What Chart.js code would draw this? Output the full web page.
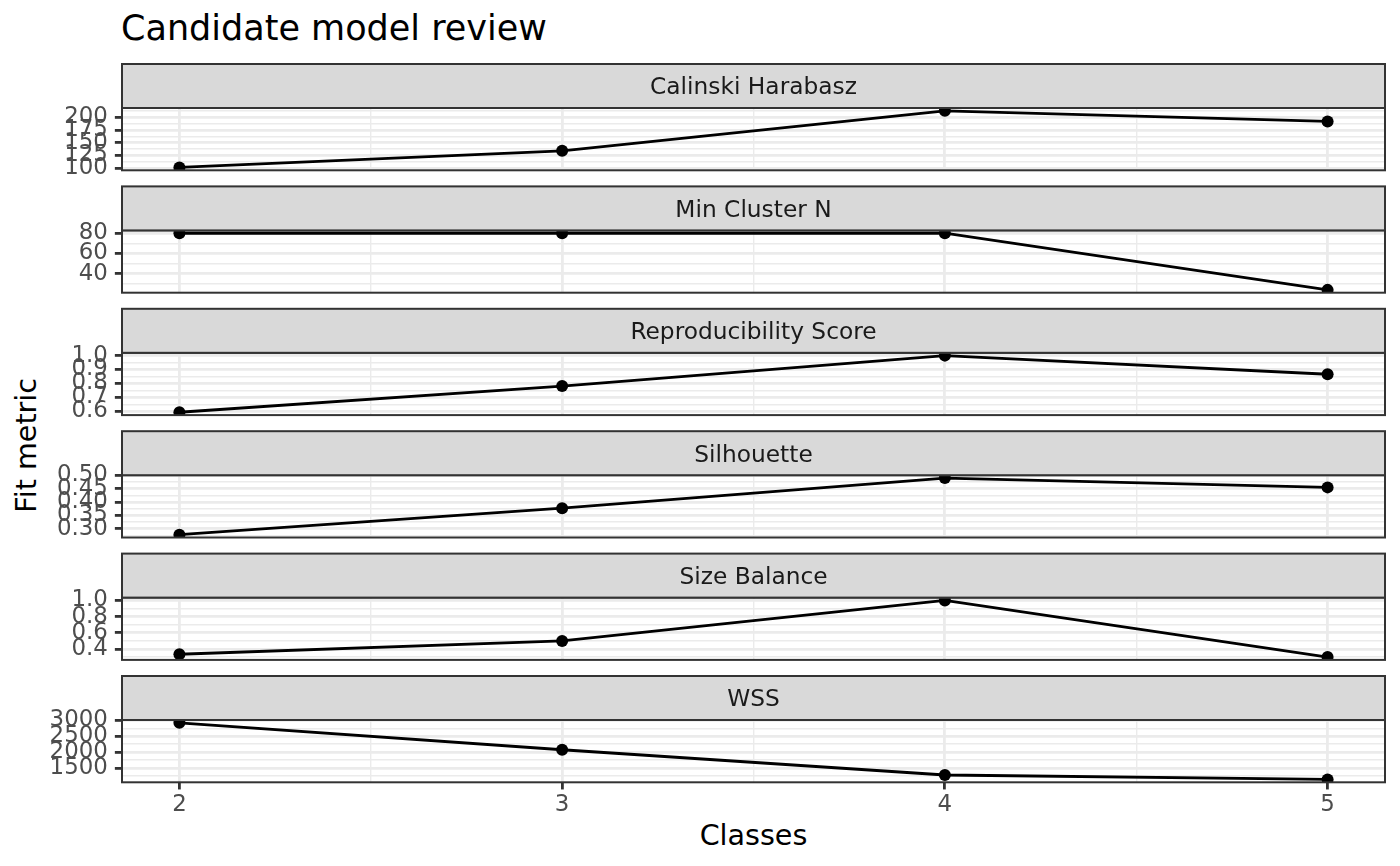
<!DOCTYPE html>
<html>
<head>
<meta charset="utf-8">
<script src="https://cdn.jsdelivr.net/npm/chart.js@4/dist/chart.umd.min.js"></script>
<style>
html, body { margin: 0; padding: 0; background: #ffffff; }
#wrap { position: relative; width: 1400px; height: 866px; overflow: hidden; background: #ffffff; font-family: "DejaVu Sans", sans-serif; }
#wrap canvas { position: absolute; left: 0; top: 0; }
.t { position: absolute; white-space: nowrap; line-height: 1; color: #000000; font-family: "DejaVu Sans", sans-serif; }
</style>
</head>
<body>
<div id="wrap">
  <div class="t" id="plotTitle" style="left:121px; top:11.4px; font-size:35px;">Candidate model review</div>
  <div class="t" id="xTitle" style="left:653.5px; width:200px; text-align:center; top:821.3px; font-size:28.6px;">Classes</div>
  <div class="t" id="yTitle" style="left:-73.9px; width:200px; height:28.6px; text-align:center; top:430.7px; font-size:28.6px; transform:rotate(-90deg);">Fit metric</div>
</div>
<script>
// ---------------- data ----------------
const classes = [2, 3, 4, 5];
const xTickLabels = ['2', '3', '4', '5'];

const panelNames = ['Calinski Harabasz', 'Min Cluster N', 'Reproducibility Score', 'Silhouette', 'Size Balance', 'WSS'];

const calinskiHarabasz = [101, 134, 213, 192];
const minClusterN = [80, 80, 80, 24];
const reproducibilityScore = [0.592, 0.781, 1.0, 0.866];
const silhouette = [0.278, 0.377, 0.49, 0.455];
const sizeBalance = [0.335, 0.5, 1.0, 0.3];
const wss = [2920, 2075, 1281, 1141];

const calinskiTicks = ['100', '125', '150', '175', '200'];
const minClusterTicks = ['40', '60', '80'];
const reproducibilityTicks = ['0.6', '0.7', '0.8', '0.9', '1.0'];
const silhouetteTicks = ['0.30', '0.35', '0.40', '0.45', '0.50'];
const sizeBalanceTicks = ['0.4', '0.6', '0.8', '1.0'];
const wssTicks = ['1500', '2000', '2500', '3000'];

const seriesList = [calinskiHarabasz, minClusterN, reproducibilityScore, silhouette, sizeBalance, wss];
const tickList = [calinskiTicks, minClusterTicks, reproducibilityTicks, silhouetteTicks, sizeBalanceTicks, wssTicks];

// ---------------- layout / style ----------------
const W = 1400, H = 866;
const PANEL_LEFT = 122, PANEL_RIGHT = 1385;
const FIRST_STRIP_TOP = 64, STRIP_H = 44, PANEL_H = 62.3, PERIOD = 122.4;
const FONT = '"DejaVu Sans"';
const AXIS_FONT = 22.9, STRIP_FONT = 23.3;
const GRID = '#EBEBEB', DARK = '#333333', AXIS_TEXT = '#4D4D4D';
const MAJOR_W = 2.8, MINOR_W = 1.4, BORDER_W = 2.0;
const TICK_LEN = 7.15;

const xMin = classes[0] - 0.05 * (classes[classes.length - 1] - classes[0]);
const xMax = classes[classes.length - 1] + 0.05 * (classes[classes.length - 1] - classes[0]);
const xAllTicks = [];
for (let v = classes[0]; v <= classes[classes.length - 1] + 1e-9; v += 0.5) xAllTicks.push(v);

const facetPlugin = {
  id: 'facet',
  afterDatasetsDraw(chart, args, opts) {
    const { ctx, chartArea: a } = chart;
    ctx.save();
    ctx.lineWidth = BORDER_W;
    ctx.strokeStyle = DARK;
    ctx.strokeRect(a.left, a.top, a.right - a.left, a.bottom - a.top);
    const sTop = a.top - STRIP_H;
    ctx.fillStyle = '#D9D9D9';
    ctx.fillRect(a.left, sTop, a.right - a.left, STRIP_H);
    ctx.strokeRect(a.left, sTop, a.right - a.left, STRIP_H);
    ctx.fillStyle = '#1A1A1A';
    ctx.font = STRIP_FONT + 'px ' + FONT;
    ctx.textAlign = 'center';
    ctx.textBaseline = 'alphabetic';
    ctx.fillText(opts.name, (a.left + a.right) / 2, sTop + STRIP_H / 2 + 0.729 * STRIP_FONT / 2);
    ctx.restore();
  }
};

const wrap = document.getElementById('wrap');

seriesList.forEach((vals, i) => {
  const isLast = i === seriesList.length - 1;
  const panelTop = FIRST_STRIP_TOP + STRIP_H + i * PERIOD;
  const panelBottom = panelTop + PANEL_H;

  const lo = Math.min(...vals), hi = Math.max(...vals), r = hi - lo;
  const yMin = lo - 0.05 * r, yMax = hi + 0.05 * r;
  const labels = tickList[i];
  const majors = labels.map(Number);
  const half = (majors[1] - majors[0]) / 2;
  const yTicks = [];
  const start = majors[0] - Math.ceil((majors[0] - yMin) / half) * half;
  for (let v = start; v <= yMax + 1e-9; v += half) {
    if (v >= yMin - 1e-9) yTicks.push(+v.toFixed(6));
  }
  const majorIdx = v => majors.findIndex(m => Math.abs(m - v) < 1e-6);
  const xMajor = v => Math.abs(v - Math.round(v)) < 1e-6;

  const canvas = document.createElement('canvas');
  canvas.width = W; canvas.height = H;
  wrap.appendChild(canvas);

  new Chart(canvas, {
    type: 'line',
    data: {
      datasets: [{
        data: classes.map((c, k) => ({ x: c, y: vals[k] })),
        borderColor: '#000000',
        borderWidth: 2.8,
        borderJoinStyle: 'round',
        pointRadius: 6,
        pointHoverRadius: 6,
        pointBackgroundColor: '#000000',
        pointBorderWidth: 0,
        tension: 0,
        fill: false,
        clip: 0
      }]
    },
    options: {
      responsive: false,
      animation: false,
      events: [],
      layout: {
        autoPadding: false,
        padding: { left: 0, right: W - PANEL_RIGHT, top: panelTop, bottom: isLast ? 0 : H - panelBottom }
      },
      plugins: {
        legend: { display: false },
        tooltip: { enabled: false },
        title: { display: false },
        facet: { name: panelNames[i] }
      },
      scales: {
        x: {
          type: 'linear',
          position: 'bottom',
          min: xMin, max: xMax,
          bounds: 'data',
          afterBuildTicks: s => { s.ticks = xAllTicks.map(v => ({ value: v })); },
          afterFit: s => {
            s.height = isLast ? H - panelBottom : 0;
            s.paddingLeft = 0; s.paddingRight = 0; s.paddingTop = 0; s.paddingBottom = 0;
          },
          border: { display: false },
          grid: {
            color: GRID,
            lineWidth: c => (c.tick && xMajor(c.tick.value)) ? MAJOR_W : MINOR_W,
            drawTicks: isLast,
            tickLength: TICK_LEN,
            tickWidth: MAJOR_W,
            tickColor: c => (c.tick && xMajor(c.tick.value)) ? DARK : 'rgba(0,0,0,0)'
          },
          ticks: {
            display: isLast,
            autoSkip: false,
            maxRotation: 0,
            minRotation: 0,
            padding: 4.1,
            color: AXIS_TEXT,
            font: { family: FONT, size: AXIS_FONT, lineHeight: 1 },
            callback: v => {
              const k = classes.findIndex(c => Math.abs(c - v) < 1e-6);
              return k >= 0 ? xTickLabels[k] : '';
            }
          }
        },
        y: {
          type: 'linear',
          position: 'left',
          min: yMin, max: yMax,
          bounds: 'data',
          afterBuildTicks: s => { s.ticks = yTicks.map(v => ({ value: v })); },
          afterFit: s => {
            s.width = PANEL_LEFT;
            s.paddingLeft = 0; s.paddingRight = 0; s.paddingTop = 0; s.paddingBottom = 0;
          },
          border: { display: false },
          grid: {
            color: GRID,
            lineWidth: c => (c.tick && majorIdx(c.tick.value) >= 0) ? MAJOR_W : MINOR_W,
            drawTicks: true,
            tickLength: TICK_LEN,
            tickWidth: MAJOR_W,
            tickColor: c => (c.tick && majorIdx(c.tick.value) >= 0) ? DARK : 'rgba(0,0,0,0)'
          },
          ticks: {
            autoSkip: false,
            padding: 7,
            color: AXIS_TEXT,
            font: { family: FONT, size: AXIS_FONT, lineHeight: 1 },
            callback: v => {
              const k = majorIdx(v);
              return k >= 0 ? labels[k] : '';
            }
          }
        }
      }
    },
    plugins: [facetPlugin]
  });
});
</script>
</body>
</html>
